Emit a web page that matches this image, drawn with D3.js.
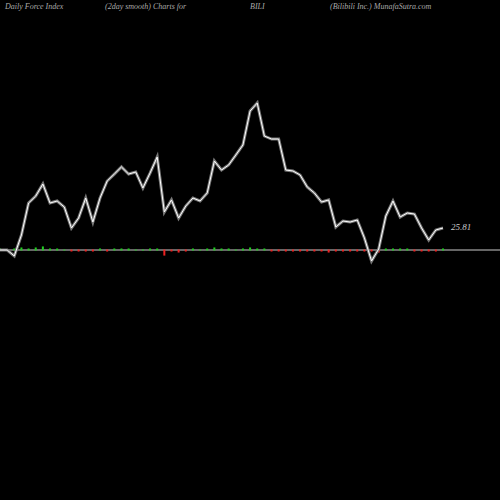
<!DOCTYPE html><html><head><script src="https://cdn.jsdelivr.net/npm/d3@7"></script>
<style>body{margin:0;background:#000}</style></head><body><svg id="c" width="500" height="500"></svg><script>
const values=[0,0,-7.0,17.6,55.1,63.3,77.4,55.1,57.5,50.4,25.8,37.5,61.0,32.8,61.0,80.9,89.1,97.4,89.1,91.5,72.7,90.3,109.1,44.6,58.7,37.5,51.6,61.0,57.5,66.9,104.4,93.8,99.7,111.4,123.2,163.0,172.4,133.7,130.2,130.2,93.8,92.7,88.0,73.9,66.9,56.3,58.7,27.0,34.0,32.8,35.2,14.1,-12.9,1.2,39.9,57.5,38.7,43.4,42.2,25.8,11.7,23.5,25.81];
const bars=[1,0,1,2,1,2,3,1,1,0,-1,-1,-1,-1,1,-1,1,1,1,0,0,1,1,-5,-1,-2,-1,1,0,1,2,1,1,0,1,2,1,1,-1,-1,-1,-1,-1,-1,-1,-1,-2,-1,-1,-1,-1,-1,-1,-2,1,1,1,1,-1,-1,-1,-1,1];
const titles=[["Daily Force  Index",5],["(2day smooth) Charts for",105],["BILI",250],["(Bilibili  Inc.) MunafaSutra.com",330]];
const svg=d3.select("#c");
svg.append("rect").attr("width",500).attr("height",500).attr("fill","#000");
const x=d3.scaleLinear().domain([0,values.length-1]).range([0,443]);
const y=d3.scaleLinear().domain([0,25.81]).range([250,228]);
titles.forEach(t=>svg.append("text").attr("x",t[1]).attr("y",9).text(t[0]).attr("fill","#aaa").attr("font-family","Liberation Serif").attr("font-style","italic").attr("font-size",8));
svg.append("line").attr("x1",0).attr("x2",500).attr("y1",y(0)).attr("y2",y(0)).attr("stroke","#888").attr("stroke-width",1.5);
svg.selectAll(".b").data(bars).join("rect").attr("x",(d,i)=>x(i)-1).attr("width",2)
 .attr("y",d=>Math.min(y(0),y(d*1.2))-0.5).attr("height",d=>Math.abs(y(d*1.2)-y(0))+1)
 .attr("fill",d=>d>=0?"#2c2":"#e22");
const line=d3.line().x((d,i)=>x(i)).y(d=>y(d));
svg.append("path").datum(values).attr("d",line).attr("fill","none").attr("stroke","#777").attr("stroke-width",3);
svg.append("path").datum(values).attr("d",line).attr("fill","none").attr("stroke","#fff").attr("stroke-width",1);
svg.append("text").attr("x",451).attr("y",230).text("25.81").attr("fill","#ccc").attr("font-family","Liberation Serif").attr("font-style","italic").attr("font-size",9);
</script></body></html>
